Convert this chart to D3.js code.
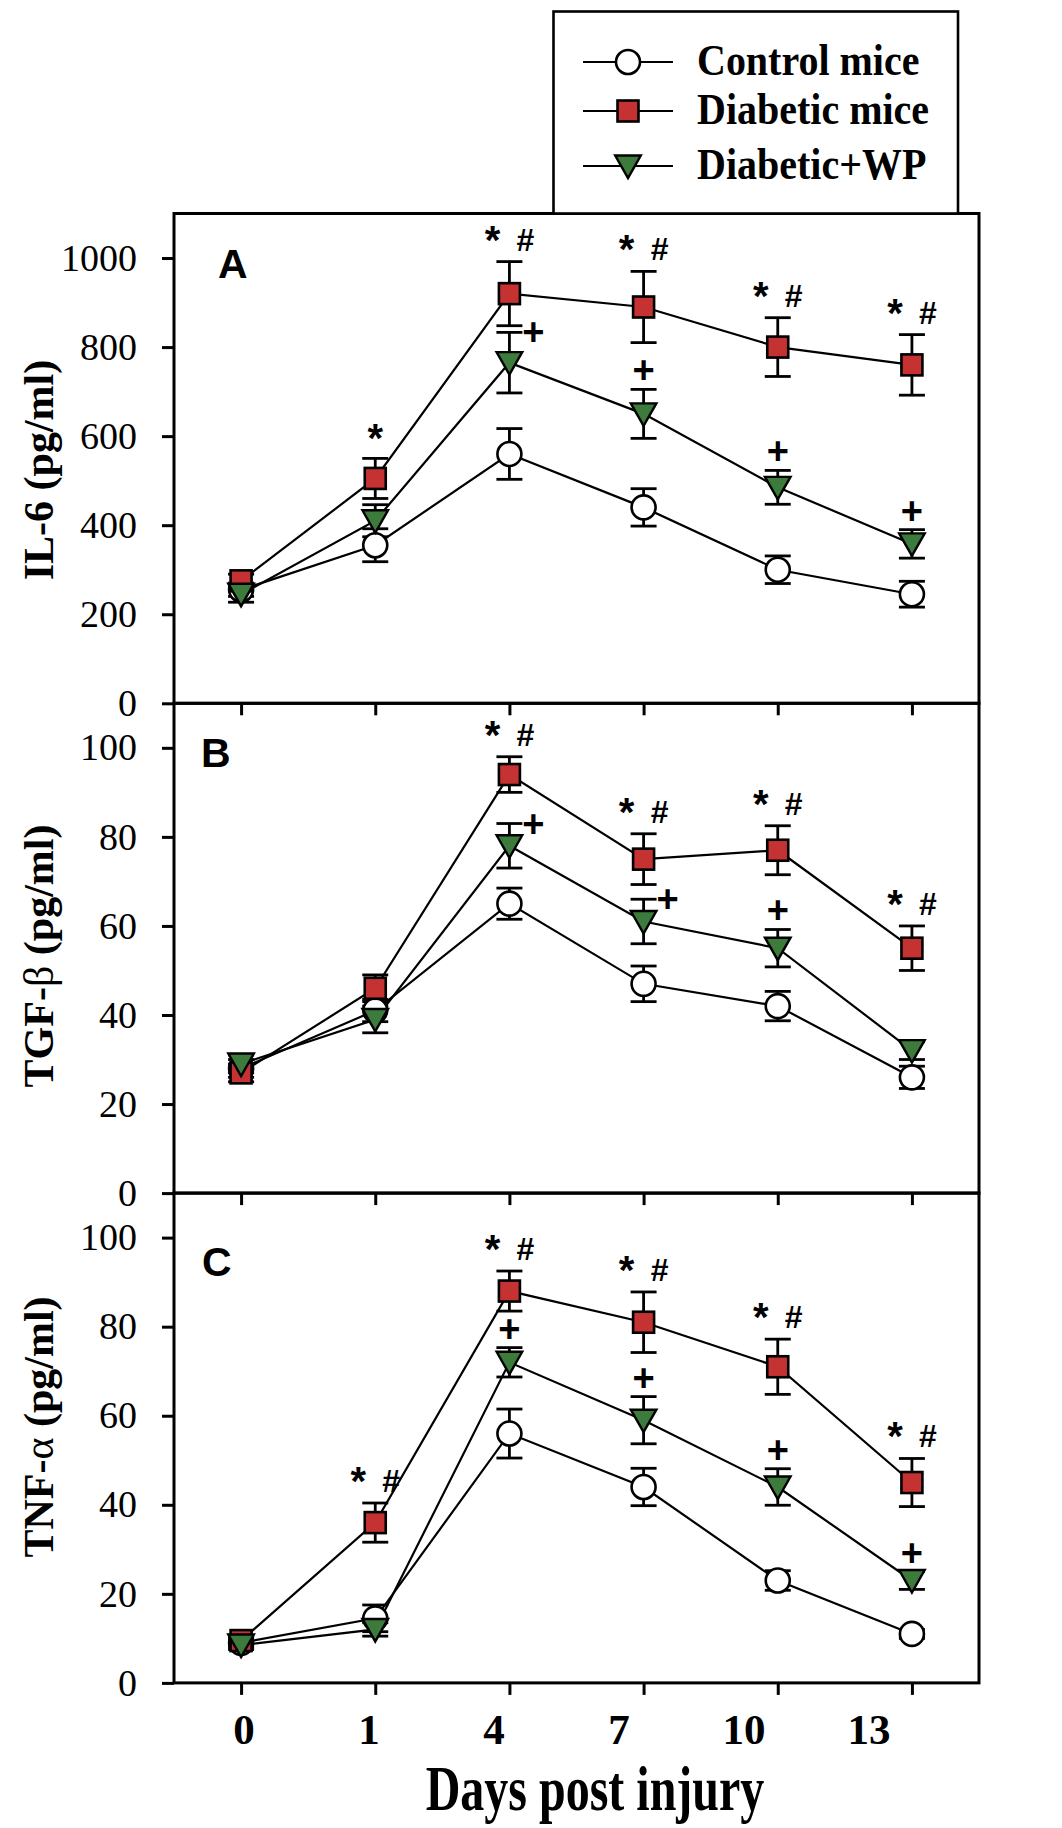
<!DOCTYPE html>
<html><head><meta charset="utf-8">
<script src="https://cdn.jsdelivr.net/npm/d3@7"></script>
<style>html,body{margin:0;padding:0;background:#fff}svg{display:block}</style>
</head><body><div id="chart"></div>
<script>
// ---------------- data ----------------
const days = ["0", "1", "4", "7", "10", "13"];
const seriesNames = ["Control mice", "Diabetic mice", "Diabetic+WP"];
const panelLetters = ["A", "B", "C"];
const panelTitles = ["IL-6 (pg/ml)", "TGF-β (pg/ml)", "TNF-α (pg/ml)"];
const panelMax = [1100, 110, 110];
const il6Ticks = [0, 200, 400, 600, 800, 1000];
const tgfTicks = [0, 20, 40, 60, 80, 100];
const tnfTicks = [0, 20, 40, 60, 80, 100];
const xTitle = "Days post injury";

// IL-6
const il6Control     = [255, 355, 560, 440, 300, 245];
const il6ControlErr  = [15, 37, 57, 42, 31, 29];
const il6Diabetic    = [275, 505, 920, 890, 800, 760];
const il6DiabeticErr = [15, 45, 72, 80, 66, 68];
const il6WP          = [245, 410, 765, 650, 485, 358];
const il6WPErr       = [18, 36, 68, 55, 38, 32];
// TGF-beta
const tgfControl     = [28, 41, 65, 47, 42, 26];
const tgfControlErr  = [2, 2.5, 3.5, 4, 3.3, 2.5];
const tgfDiabetic    = [27, 46, 94, 75, 77, 55];
const tgfDiabeticErr = [2, 3, 4, 5.7, 5.5, 5];
const tgfWP          = [29, 39, 78, 61, 55, 32];
const tgfWPErr       = [2, 3, 5, 5, 4.2, 2];
// TNF-alpha
const tnfControl     = [9, 14.5, 56, 44, 23, 11];
const tnfControlErr  = [1, 3, 5.5, 4.2, 2.2, 1];
const tnfDiabetic    = [9.5, 36, 88, 81, 71, 45];
const tnfDiabeticErr = [1, 4.4, 4.5, 6.8, 6.2, 5.4];
const tnfWP          = [8.5, 12, 72, 59, 44, 23];
const tnfWPErr       = [1, 1.5, 3.3, 5.3, 4.1, 2];

// significance marks: [panel, day index, series index, text, placement]
const annotations = [
  [0,1,1,"*","top"],[0,2,1,"* #","top"],[0,2,2,"+","right"],[0,3,1,"* #","top"],[0,3,2,"+","top"],
  [0,4,1,"* #","top"],[0,4,2,"+","top"],[0,5,1,"* #","top"],[0,5,2,"+","top"],
  [1,2,1,"* #","top"],[1,2,2,"+","right"],[1,3,1,"* #","top"],[1,3,2,"+","right"],
  [1,4,1,"* #","top"],[1,4,2,"+","top"],[1,5,1,"* #","top"],
  [2,1,1,"* #","top"],[2,2,1,"* #","top"],[2,2,2,"+","top"],[2,3,1,"* #","top"],[2,3,2,"+","top"],
  [2,4,1,"* #","top"],[2,4,2,"+","top"],[2,5,1,"* #","top"],[2,5,2,"+","top"]
];

const panelData = [
  {ticks: il6Ticks, series: [[il6Control, il6ControlErr], [il6Diabetic, il6DiabeticErr], [il6WP, il6WPErr]]},
  {ticks: tgfTicks, series: [[tgfControl, tgfControlErr], [tgfDiabetic, tgfDiabeticErr], [tgfWP, tgfWPErr]]},
  {ticks: tnfTicks, series: [[tnfControl, tnfControlErr], [tnfDiabetic, tnfDiabeticErr], [tnfWP, tnfWPErr]]}
];

// ---------------- layout ----------------
const W = 1062, H = 1828;
const left = 174, right = 979;
const top0 = 213.5, ph = 489.8;
const titleCY = [470, 956, 1427];
const letterPos = [[218, 278], [201, 767], [202, 1276]];
const fills = ["#ffffff", "#C43232", "#3C7B3C"];
const SERIF = '"Liberation Serif", "Times New Roman", Times, serif';
const SANS = '"Liberation Sans", Arial, Helvetica, sans-serif';

const svg = d3.select("#chart").append("svg").attr("width", W).attr("height", H)
  .style("background", "#fff");

const x = d3.scaleLinear().domain([-0.5, days.length - 0.5]).range([left, right]);
const xLabel = d3.scalePoint().domain(days).range([244, 869]);

function marker(g, type, cx, cy) {
  if (type === 0) {
    g.append("circle").attr("cx", cx).attr("cy", cy).attr("r", 12)
      .attr("fill", fills[0]).attr("stroke", "#000").attr("stroke-width", 2.6);
  } else if (type === 1) {
    g.append("rect").attr("x", cx - 10.5).attr("y", cy - 10.5).attr("width", 21).attr("height", 21)
      .attr("fill", fills[1]).attr("stroke", "#000").attr("stroke-width", 2.6);
  } else {
    g.append("path").attr("d", `M${cx - 12.8},${cy - 10.5}L${cx + 12.8},${cy - 10.5}L${cx},${cy + 12}Z`)
      .attr("fill", fills[2]).attr("stroke", "#000").attr("stroke-width", 2.4).attr("stroke-linejoin", "miter");
  }
}

function txt(g, fam, size, weight) {
  return g.append("text").style("font-family", fam).style("font-size", size + "px")
    .style("font-weight", weight || "normal").attr("fill", "#000");
}

panelData.forEach((pd, p) => {
  const yTop = top0 + p * ph, yBot = yTop + ph;
  const y = d3.scaleLinear().domain([0, panelMax[p]]).range([yBot, yTop]);
  const g = svg.append("g");

  // y axis
  const ya = g.append("g").attr("transform", `translate(${left},0)`)
    .call(d3.axisLeft(y).tickValues(pd.ticks).tickSize(12).tickPadding(25).tickFormat(d3.format("d")));
  ya.attr("font-family", null).attr("font-size", null);
  ya.select(".domain").remove();
  ya.selectAll(".tick line").attr("stroke", "#000").attr("stroke-width", 3);
  ya.selectAll(".tick text").style("font-family", SERIF).style("font-size", "38px")
    .style("font-weight", "normal").attr("fill", "#000");

  // x ticks (outward, down)
  const xa = g.append("g").attr("transform", `translate(0,${yBot})`)
    .call(d3.axisBottom(x).tickValues(d3.range(days.length)).tickSize(12).tickFormat(""));
  xa.select(".domain").remove();
  xa.selectAll(".tick line").attr("stroke", "#000").attr("stroke-width", 3);

  // frame
  g.append("rect").attr("x", left).attr("y", yTop).attr("width", right - left).attr("height", ph)
    .attr("fill", "none").attr("stroke", "#000").attr("stroke-width", 3);

  // lines
  const line = d3.line().x((d, i) => x(i)).y(d => y(d));
  pd.series.forEach(([vals]) => {
    g.append("path").attr("d", line(vals)).attr("fill", "none").attr("stroke", "#000").attr("stroke-width", 2.2);
  });
  // error bars
  pd.series.forEach(([vals, errs]) => {
    vals.forEach((v, i) => {
      const cx = x(i), y1 = y(v + errs[i]), y2 = y(v - errs[i]);
      g.append("line").attr("x1", cx).attr("x2", cx).attr("y1", y1).attr("y2", y2)
        .attr("stroke", "#000").attr("stroke-width", 2.8);
      [y1, y2].forEach(yy => g.append("line").attr("x1", cx - 13).attr("x2", cx + 13)
        .attr("y1", yy).attr("y2", yy).attr("stroke", "#000").attr("stroke-width", 2.8));
    });
  });
  // markers
  pd.series.forEach(([vals], s) => {
    vals.forEach((v, i) => marker(g, s, x(i), y(v)));
  });

  // annotations
  annotations.filter(a => a[0] === p).forEach(([, di, si, label, place]) => {
    const [vals, errs] = pd.series[si];
    const cx = x(di), capY = y(vals[di] + errs[di]);
    if (label === "+") {
      const t = txt(g, SANS, 38, "bold").attr("text-anchor", "middle").text("+");
      if (place === "right") t.attr("x", cx + 24).attr("y", capY + 13);
      else t.attr("x", cx).attr("y", capY - 6);
    } else {
      const parts = label.split(" ");
      if (parts.length === 1) {
        txt(g, SANS, 40, "bold").attr("text-anchor", "middle").attr("x", cx).attr("y", capY - 6).text("*");
      } else {
        txt(g, SANS, 40, "bold").attr("text-anchor", "middle").attr("x", cx - 17).attr("y", capY - 8).text("*");
        txt(g, SANS, 32, "bold").attr("text-anchor", "middle").attr("x", cx + 16).attr("y", capY - 11).text("#");
      }
    }
  });

  // panel letter
  txt(g, SANS, 41, "bold").attr("x", letterPos[p][0]).attr("y", letterPos[p][1]).text(panelLetters[p]);

  // y title
  const t = txt(g, SERIF, 42, "bold").attr("transform", `translate(53,${titleCY[p]}) rotate(-90)`)
    .attr("text-anchor", "middle");
  panelTitles[p].split(/([αβ])/).forEach(part => {
    if (!part) return;
    const ts = t.append("tspan").text(part);
    if (/[αβ]/.test(part)) ts.style("font-weight", "normal");
  });
});

// x tick labels
const lastBot = top0 + 3 * ph;
svg.append("g").selectAll("text").data(days).join("text")
  .style("font-family", SERIF).style("font-size", "43px").style("font-weight", "bold").attr("fill", "#000")
  .attr("x", d => xLabel(d)).attr("y", lastBot + 61).attr("text-anchor", "middle").text(d => d);

// x title (tall type)
txt(svg, SERIF, 48, "bold").attr("transform", `translate(595,1810) scale(1,1.3)`)
  .attr("text-anchor", "middle").text(xTitle);

// legend
const lg = svg.append("g");
lg.append("rect").attr("x", 553.5).attr("y", 11.5).attr("width", 404.5).attr("height", top0 - 11.5)
  .attr("fill", "#fff").attr("stroke", "#000").attr("stroke-width", 2.6);
const legY = [62, 111, 166];
seriesNames.forEach((name, s) => {
  lg.append("line").attr("x1", 583).attr("x2", 673).attr("y1", legY[s]).attr("y2", legY[s])
    .attr("stroke", "#000").attr("stroke-width", 2.2);
  marker(lg, s, 628, legY[s]);
  txt(lg, SERIF, 40, "bold").attr("transform", `translate(697,${legY[s] + 13}) scale(1,1.12)`).text(name);
});
</script>
</body></html>
